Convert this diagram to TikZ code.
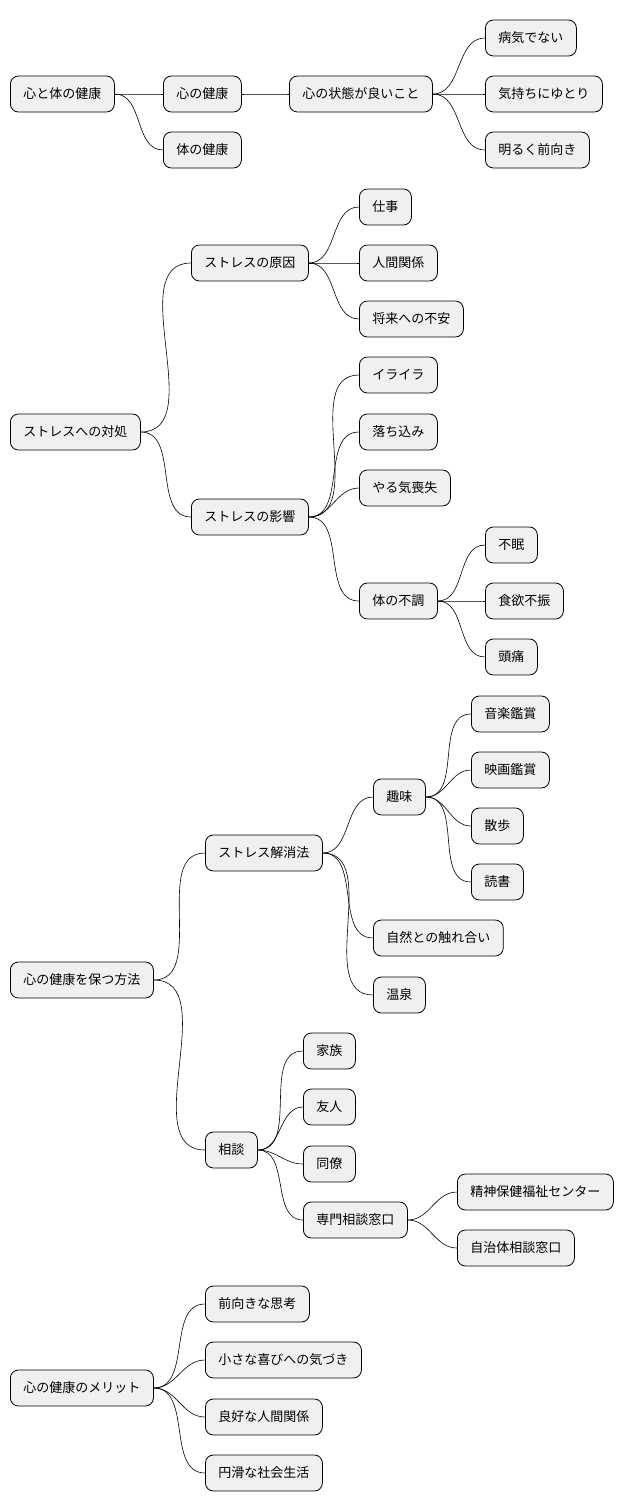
\documentclass[tikz,border=0pt]{standalone}
\usepackage{fontspec}
\setmainfont{Noto Sans CJK JP}
\begin{document}
\begin{tikzpicture}[x=1pt,y=-1pt,
  mm/.style={draw=black,fill=black!6,rounded corners=8pt,minimum height=36pt,inner xsep=13pt,anchor=west,font=\fontsize{13}{15}\selectfont,line width=0.8pt},
  lk/.style={draw=black,line width=0.6pt}]
\useasboundingbox (0,0) rectangle (628,1512);
\newcommand\mmnode[4]{\node[mm] (#1) at (#2,#3) {#4};}
\newcommand\mmedge[2]{\draw[lk] (#1.east) to[out=0,in=180] (#2.west);}
\mmnode{a}{10}{94}{心と体の健康}
\mmnode{a1}{163}{94}{心の健康}
\mmnode{a11}{289}{94}{心の状態が良いこと}
\mmnode{a111}{485}{38}{病気でない}
\mmnode{a112}{485}{94}{気持ちにゆとり}
\mmnode{a113}{485}{150}{明るく前向き}
\mmnode{a2}{163}{150}{体の健康}
\mmedge{a}{a1}\mmedge{a1}{a11}\mmedge{a11}{a111}\mmedge{a11}{a112}\mmedge{a11}{a113}\mmedge{a}{a2}
\mmnode{b}{10}{432}{ストレスへの対処}
\mmnode{b1}{191}{263}{ストレスの原因}
\mmnode{b11}{359}{207}{仕事}
\mmnode{b12}{359}{263}{人間関係}
\mmnode{b13}{359}{319}{将来への不安}
\mmnode{b2}{191}{517}{ストレスの影響}
\mmnode{b21}{359}{375}{イライラ}
\mmnode{b22}{359}{432}{落ち込み}
\mmnode{b23}{359}{488}{やる気喪失}
\mmnode{b24}{359}{601}{体の不調}
\mmnode{b241}{485}{545}{不眠}
\mmnode{b242}{485}{601}{食欲不振}
\mmnode{b243}{485}{657}{頭痛}
\mmedge{b}{b1}\mmedge{b1}{b11}\mmedge{b1}{b12}\mmedge{b1}{b13}
\mmedge{b}{b2}\mmedge{b2}{b21}\mmedge{b2}{b22}\mmedge{b2}{b23}\mmedge{b2}{b24}
\mmedge{b24}{b241}\mmedge{b24}{b242}\mmedge{b24}{b243}
\mmnode{c}{10}{980}{心の健康を保つ方法}
\mmnode{c1}{205}{853}{ストレス解消法}
\mmnode{c11}{373}{797}{趣味}
\mmnode{c111}{471}{714}{音楽鑑賞}
\mmnode{c112}{471}{770}{映画鑑賞}
\mmnode{c113}{471}{826}{散歩}
\mmnode{c114}{471}{882}{読書}
\mmnode{c12}{373}{938}{自然との触れ合い}
\mmnode{c13}{373}{995}{温泉}
\mmnode{c2}{205}{1150}{相談}
\mmnode{c21}{303}{1051}{家族}
\mmnode{c22}{303}{1107}{友人}
\mmnode{c23}{303}{1164}{同僚}
\mmnode{c24}{303}{1220}{専門相談窓口}
\mmnode{c241}{457}{1192}{精神保健福祉センター}
\mmnode{c242}{457}{1248}{自治体相談窓口}
\mmedge{c}{c1}\mmedge{c1}{c11}\mmedge{c11}{c111}\mmedge{c11}{c112}\mmedge{c11}{c113}\mmedge{c11}{c114}
\mmedge{c1}{c12}\mmedge{c1}{c13}
\mmedge{c}{c2}\mmedge{c2}{c21}\mmedge{c2}{c22}\mmedge{c2}{c23}\mmedge{c2}{c24}
\mmedge{c24}{c241}\mmedge{c24}{c242}
\mmnode{d}{10}{1388}{心の健康のメリット}
\mmnode{d1}{205}{1304}{前向きな思考}
\mmnode{d2}{205}{1360}{小さな喜びへの気づき}
\mmnode{d3}{205}{1417}{良好な人間関係}
\mmnode{d4}{205}{1473}{円滑な社会生活}
\mmedge{d}{d1}\mmedge{d}{d2}\mmedge{d}{d3}\mmedge{d}{d4}
\end{tikzpicture}
\end{document}
